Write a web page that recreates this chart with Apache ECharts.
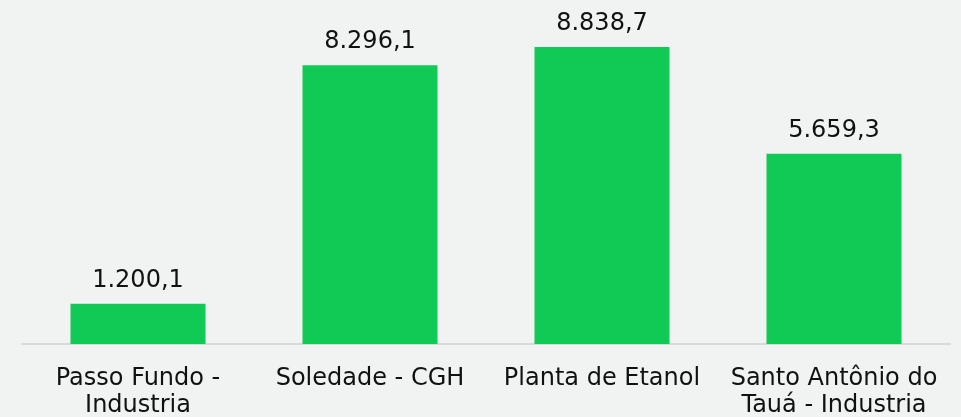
<!DOCTYPE html>
<html>
<head>
<meta charset="utf-8">
<script src="https://cdn.jsdelivr.net/npm/echarts@6/dist/echarts.min.js"></script>
<style>
  html, body { margin: 0; padding: 0; background: #f1f2f2; }
</style>
</head>
<body>
<div id="container" style="width: 961px; height: 417px;"></div>

<script type="text/javascript">
    var categories = ['Passo Fundo -\nIndustria', 'Soledade - CGH', 'Planta de Etanol', 'Santo Antônio do\nTauá - Industria'];
    var values = [1200.1, 8296.1, 8838.7, 5659.3];

    // formato brasileiro: 8.838,7
    function fmt(v) {
        var parts = v.toFixed(1).split('.');
        var inteiro = parts[0].replace(/\B(?=(\d{3})+(?!\d))/g, '.');
        return inteiro + ',' + parts[1];
    }

    var dom = document.getElementById("container");
    var myChart = echarts.init(dom, null, { renderer: 'canvas' });

    var option = {
        backgroundColor: '#f1f2f2',
        animation: false,
        grid: { left: 22, right: 11, top: 47, bottom: 73, containLabel: false, outerBoundsMode: 'none' },
        xAxis: {
            type: 'category',
            data: categories,
            axisLine: { lineStyle: { color: '#d9d9d9', width: 2 } },
            axisTick: { show: false },
            axisLabel: {
                color: '#111',
                fontFamily: 'DejaVu Sans',
                fontSize: 24,
                lineHeight: 27,
                margin: 21,
                interval: 0
            }
        },
        yAxis: {
            type: 'value',
            min: 0,
            max: 8838.7,
            show: false,
            splitLine: { show: false }
        },
        series: [{
            type: 'bar',
            data: values,
            barWidth: 135,
            itemStyle: { color: '#11ca55' },
            label: {
                show: true,
                position: 'top',
                distance: 11,
                color: '#111',
                fontFamily: 'DejaVu Sans',
                fontSize: 24,
                formatter: function (p) { return fmt(p.value); }
            }
        }]
    };

    myChart.setOption(option);
</script>
</body>
</html>
